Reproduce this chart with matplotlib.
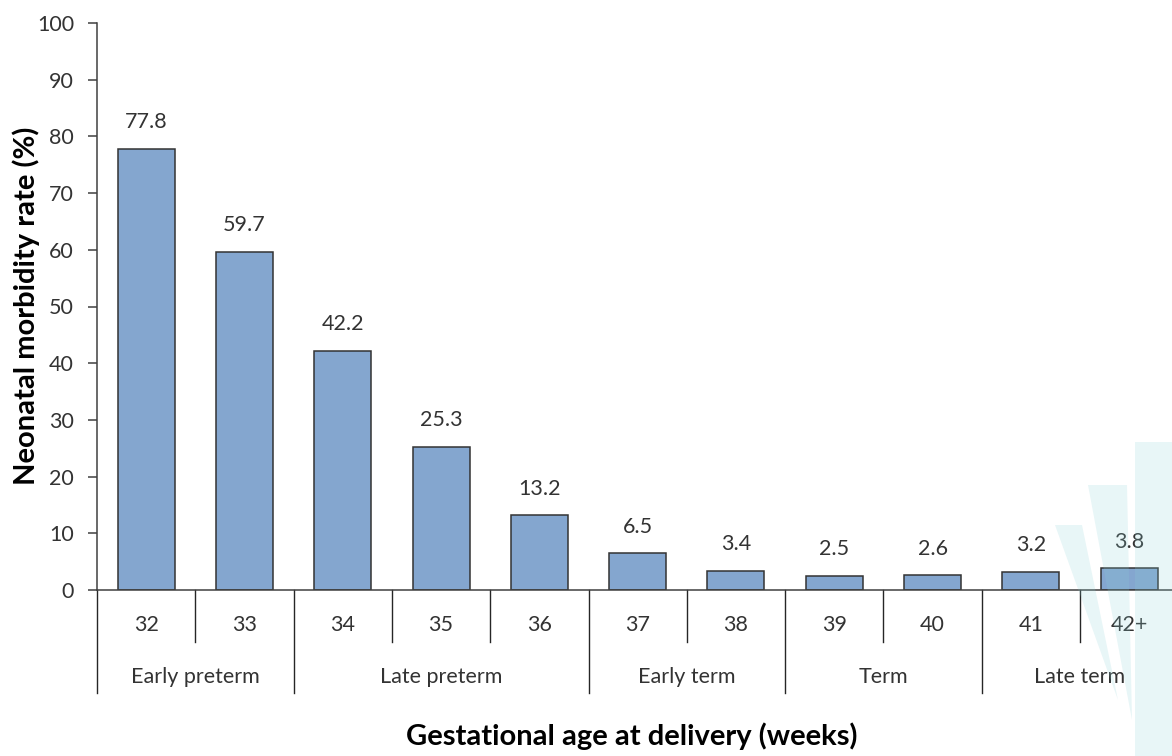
import matplotlib.pyplot as plt
from matplotlib.patches import Polygon, Rectangle

plt.rcParams['font.family'] = ['Lato', 'DejaVu Sans']

weeks = ['32', '33', '34', '35', '36', '37', '38', '39', '40', '41', '42+']
rates = [77.8, 59.7, 42.2, 25.3, 13.2, 6.5, 3.4, 2.5, 2.6, 3.2, 3.8]
groups = ['Early preterm', 'Late preterm', 'Early term', 'Term', 'Late term']
group_sizes = [2, 3, 2, 2, 2]

W, H = 1172, 756
fig = plt.figure(figsize=(W / 100, H / 100), dpi=100)
# axes box in pixels: x 97..1178, y 23..590 (from top)
ax = fig.add_axes([97 / W, (H - 590) / H, 11 * 98.3 / W, 567 / H])

fs = 15.5
txt = '#333333'

x = list(range(len(weeks)))
ax.bar(x, rates, width=0.58, color='#84a6cf', edgecolor='#333333', linewidth=1.1, zorder=2)
for xi, v in zip(x, rates):
    ax.annotate(f'{v}', (xi, v), xytext=(0, 19), textcoords='offset points',
                ha='center', va='center', fontsize=fs, color=txt)

ax.set_xlim(-0.5, len(weeks) - 0.5)
ax.set_ylim(0, 100)
ax.set_yticks(range(0, 101, 10))
ax.tick_params(axis='y', labelsize=fs, length=6.5, width=1.1, color='#404040',
               labelcolor=txt, pad=10)
ax.set_xticks([])
for s in ['top', 'right']:
    ax.spines[s].set_visible(False)
for s in ['left', 'bottom']:
    ax.spines[s].set_color('#404040')
    ax.spines[s].set_linewidth(1.1)

# two-level category axis
trans = ax.get_xaxis_transform()
px = 1 / 567
bounds = [0]
for g in group_sizes:
    bounds.append(bounds[-1] + g)
for b in range(len(weeks) + 1):
    depth = 103 if b in bounds else 52
    ax.plot([b - 0.5, b - 0.5], [0, -depth * px], color='#262626', lw=1.0,
            transform=trans, clip_on=False)
for xi, w in zip(x, weeks):
    ax.text(xi, -35 * px, w, transform=trans, ha='center', va='center',
            fontsize=fs, color=txt)
for i, g in enumerate(groups):
    mid = (bounds[i] + bounds[i + 1]) / 2 - 0.5
    ax.text(mid, -87 * px, g, transform=trans, ha='center', va='center',
            fontsize=fs, color=txt)

fig.text(632 / W, 1 - 736 / H, 'Gestational age at delivery (weeks)', ha='center',
         va='center', fontsize=21, fontweight='bold', color='#000000')
fig.text(26 / W, 1 - 306 / H, 'Neonatal morbidity rate (%)', ha='center',
         va='center', rotation=90, fontsize=21, fontweight='bold', color='#000000')

# faint watermark in lower right corner
def fpx(px_x, px_y):
    return (px_x / W, 1 - px_y / H)

wm = dict(facecolor='#8cd2d7', edgecolor='none', alpha=0.2, zorder=10,
          transform=fig.transFigure)
fig.patches.append(Rectangle(fpx(1135, 756), 37 / W, (756 - 442) / H, **wm))
fig.patches.append(Polygon([fpx(1088, 485), fpx(1127, 485), fpx(1132, 720)], **wm))
fig.patches.append(Polygon([fpx(1055, 525), fpx(1082, 525), fpx(1118, 700)], **wm))

fig.savefig('out.png', dpi=100)
